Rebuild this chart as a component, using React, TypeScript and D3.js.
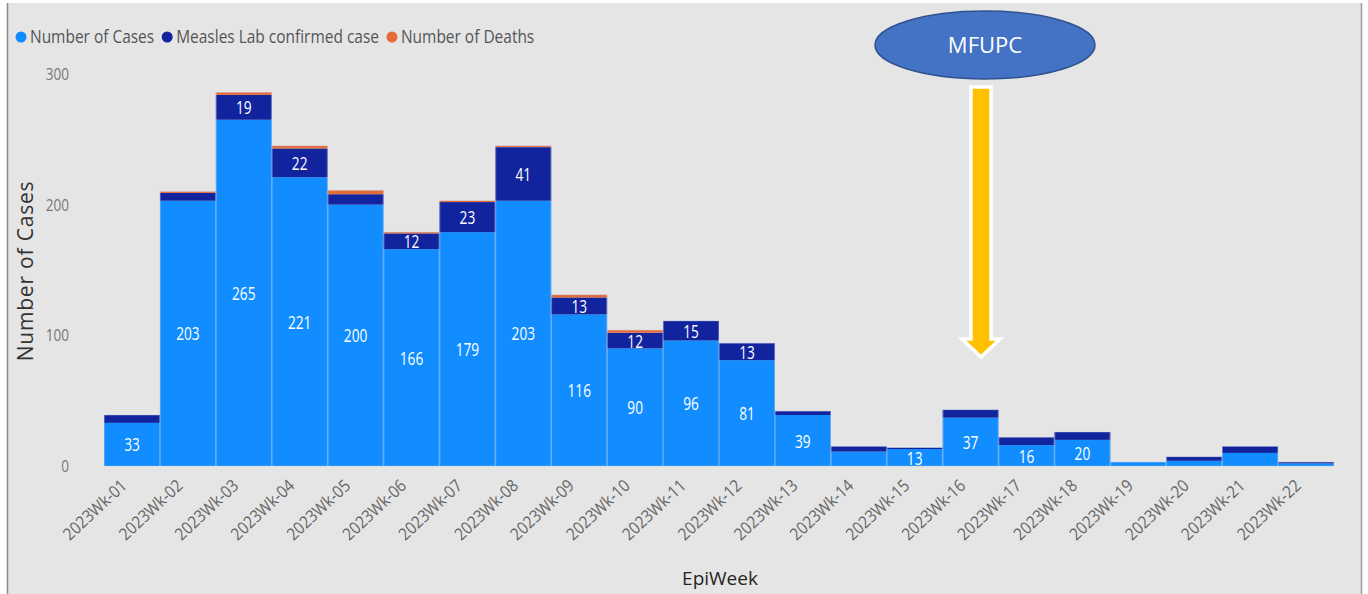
import React, { useEffect, useRef } from 'react';
import * as d3 from 'd3';

const W = 1368, H = 594;
const M = { left: 104, right: 1334, top: 74, bottom: 466 };

const weeks = [
  '2023Wk-01', '2023Wk-02', '2023Wk-03', '2023Wk-04', '2023Wk-05', '2023Wk-06',
  '2023Wk-07', '2023Wk-08', '2023Wk-09', '2023Wk-10', '2023Wk-11', '2023Wk-12',
  '2023Wk-13', '2023Wk-14', '2023Wk-15', '2023Wk-16', '2023Wk-17', '2023Wk-18',
  '2023Wk-19', '2023Wk-20', '2023Wk-21', '2023Wk-22',
];
const cases = [33, 203, 265, 221, 200, 166, 179, 203, 116, 90, 96, 81, 39, 11, 13, 37, 16, 20, 3, 4, 10, 2];
const labConfirmed = [6, 6, 19, 22, 8, 12, 23, 41, 13, 12, 15, 13, 3, 4, 1, 6, 6, 6, 0, 3, 5, 1];
const deaths = [0, 1, 2, 2, 3, 1, 1, 1, 2, 2, 0, 0, 0, 0, 0, 0, 0, 0, 0, 0, 0, 0];
const yTicks = [0, 100, 200, 300];

const seriesNames = ['Number of Cases', 'Measles Lab confirmed case', 'Number of Deaths'];
const seriesKeys = ['cases', 'lab', 'deaths'];
const colors = ['#118DFF', '#12239E', '#E66C37'];

const SANS = "'Open Sans', 'Noto Sans', sans-serif";

export default function App() {
  const ref = useRef<SVGSVGElement>(null);

  useEffect(() => {
    const svg = d3.select(ref.current);
    svg.selectAll('*').remove();

    const rows = weeks.map((w, i) => ({ week: w, cases: cases[i], lab: labConfirmed[i], deaths: deaths[i] }));
    const stack = d3.stack<any>().keys(seriesKeys)(rows);

    const x = d3.scaleBand().domain(weeks).range([M.left, M.right]).padding(0);
    const y = d3.scaleLinear().domain([0, 300]).range([M.bottom, M.top]);

    // condensed text: the reference uses a narrow Power BI font
    const narrow = (g: any, tx: number, ty: number, sx: number, size: number, fill: string, anchor: string, txt: string) =>
      g.append('text').attr('transform', `translate(${tx},${ty}) scale(${sx},1)`)
        .attr('text-anchor', anchor).attr('font-family', SANS).attr('font-size', size)
        .attr('fill', fill).text(txt);

    // background panel + borders
    svg.append('rect').attr('x', 0).attr('y', 0).attr('width', W).attr('height', H).attr('fill', '#fff');
    svg.append('rect').attr('x', 7).attr('y', 3).attr('width', 1355).attr('height', H - 3).attr('fill', '#e5e5e5');
    svg.append('line').attr('x1', 7.5).attr('x2', 7.5).attr('y1', 3).attr('y2', H).attr('stroke', '#8a8a8a').attr('stroke-width', 1.5);
    svg.append('line').attr('x1', 1361.5).attr('x2', 1361.5).attr('y1', 3).attr('y2', H).attr('stroke', '#9a9a9a').attr('stroke-width', 1.5);

    // legend
    const legend = svg.append('g').attr('transform', 'translate(21,37)');
    let lx = 0;
    seriesNames.forEach((name, i) => {
      legend.append('circle').attr('cx', lx).attr('cy', 0).attr('r', 5.5).attr('fill', colors[i]);
      const t = narrow(legend, lx + 9, 6, 0.86, 18, '#555', 'start', name);
      const w = (t.node() as SVGTextElement).getComputedTextLength() * 0.86;
      lx += 9 + w + 13;
    });

    // y axis ticks
    const yg = svg.append('g');
    yTicks.forEach((d) => narrow(yg, 69, y(d) + 6, 0.8, 17, '#777', 'end', String(d)));

    svg.append('text').attr('transform', 'translate(33,271) rotate(-90)').attr('text-anchor', 'middle')
      .attr('font-family', SANS).attr('font-size', 21).attr('letter-spacing', 0.8)
      .attr('fill', '#333').text('Number of Cases');

    // bars
    stack.forEach((s, si) => {
      svg.append('g').selectAll('rect').data(s).join('rect')
        .attr('x', (d: any) => x(d.data.week)!)
        .attr('width', x.bandwidth())
        .attr('y', (d: any) => y(d[1]))
        .attr('height', (d: any) => y(d[0]) - y(d[1]))
        .attr('fill', colors[si]);
    });
    // light outline around each column
    svg.append('g').selectAll('rect').data(stack[2]).join('rect')
      .attr('x', (d: any) => x(d.data.week)! + 0.5)
      .attr('width', x.bandwidth() - 1)
      .attr('y', (d: any) => y(d[1]))
      .attr('height', (d: any) => y(0) - y(d[1]))
      .attr('fill', 'none').attr('stroke', '#b8c8e8').attr('stroke-width', 0.6).attr('stroke-opacity', 0.6);

    // data labels
    const lg = svg.append('g');
    [0, 1].forEach((si) => {
      stack[si].filter((d: any) => d[1] - d[0] >= 12).forEach((d: any) => {
        narrow(lg, x(d.data.week)! + x.bandwidth() / 2, (y(d[0]) + y(d[1])) / 2 + 7,
          0.72, 19, '#fff', 'middle', String(d[1] - d[0]));
      });
    });

    // x axis labels
    svg.append('g').selectAll('text').data(weeks).join('text')
      .attr('transform', (d) => `translate(${x(d)! + x.bandwidth() / 2 - 4},${487}) rotate(-43) scale(0.9,1)`)
      .attr('text-anchor', 'end').attr('font-family', SANS).attr('font-size', 17).attr('fill', '#666')
      .text((d) => d);

    svg.append('text').attr('x', 720).attr('y', 585).attr('text-anchor', 'middle')
      .attr('font-family', SANS).attr('font-size', 19).attr('fill', '#252423').text('EpiWeek');

    // MFUPC annotation
    svg.append('ellipse').attr('cx', 985).attr('cy', 45).attr('rx', 110).attr('ry', 34)
      .attr('fill', '#4472C4').attr('stroke', '#2F528F').attr('stroke-width', 1.5);
    svg.append('text').attr('x', 985).attr('y', 53).attr('text-anchor', 'middle')
      .attr('font-family', SANS).attr('font-size', 22).attr('fill', '#fff').text('MFUPC');
    const arrow = d3.path();
    arrow.moveTo(971, 87);
    arrow.lineTo(991, 87);
    arrow.lineTo(991, 339);
    arrow.lineTo(1000, 339);
    arrow.lineTo(981, 357);
    arrow.lineTo(962, 339);
    arrow.lineTo(971, 339);
    arrow.closePath();
    svg.append('path').attr('d', arrow.toString()).attr('fill', '#FFC000')
      .attr('stroke', '#fff').attr('stroke-width', 3.5).attr('stroke-linejoin', 'miter');
  }, []);

  return (
    <svg ref={ref} width={W} height={H} style={{ position: 'absolute', left: 0, top: 0, display: 'block' }} />
  );
}
